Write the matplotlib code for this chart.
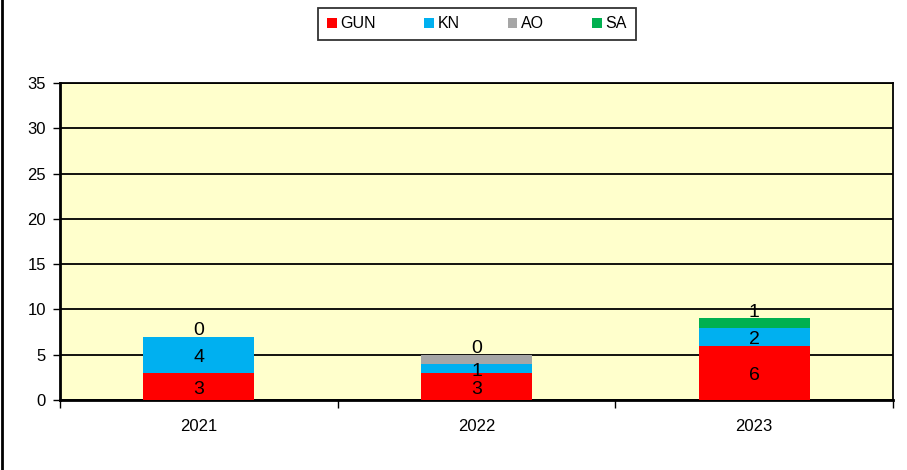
import numpy as np
import matplotlib
matplotlib.use("Agg")
import matplotlib.pyplot as plt

years = ["2021", "2022", "2023"]
gun = [3, 3, 6]
kn = [4, 1, 2]
ao = [0, 1, 0]
sa = [0, 0, 1]
top_labels = ["0", "0", "1"]

series = [("GUN", gun, "#FF0000"), ("KN", kn, "#00B0F0"),
          ("AO", ao, "#A6A6A6"), ("SA", sa, "#00B050")]

plt.rcParams['font.family'] = ['Liberation Sans', 'DejaVu Sans']

W, H = 907, 470
fig = plt.figure(figsize=(W / 100, H / 100), dpi=100)
ax = fig.add_axes([60 / W, 1 - 400 / H, (893 - 60) / W, (400 - 83) / H])
ax.set_facecolor("#FFFFCC")

x = np.arange(len(years))
bottom = np.zeros(len(years))
for name, vals, col in series:
    ax.bar(x, vals, 0.4, bottom=bottom, color=col, label=name, zorder=3)
    bottom += np.array(vals)

# segment labels (slightly low, like the original)
off = -0.3
for i in range(len(years)):
    ax.text(x[i], gun[i] / 2 + off, str(gun[i]), ha="center", va="center", fontsize=14, zorder=4)
    ax.text(x[i], gun[i] + kn[i] / 2 + off, str(kn[i]), ha="center", va="center", fontsize=14, zorder=4)
    ax.text(x[i], bottom[i] + 0.95 + off, top_labels[i], ha="center", va="center", fontsize=14, zorder=4)

ax.set_xlim(-0.5, 2.5)
ax.set_ylim(0, 35)
ax.set_yticks(range(0, 36, 5))
ax.yaxis.grid(True, color="black", linewidth=1.3, zorder=1)
ax.set_xticks(x)
ax.set_xticklabels(years)
ax.set_xticks([-0.5, 0.5, 1.5, 2.5], minor=True)
ax.tick_params(axis="x", which="major", length=0, pad=14, labelsize=12)
ax.tick_params(axis="x", which="minor", length=6, width=1, direction="out")
ax.tick_params(axis="y", length=5, width=1, labelsize=12, pad=5)
for s in ["left", "bottom"]:
    ax.spines[s].set_linewidth(2)
for s in ["top", "right"]:
    ax.spines[s].set_linewidth(1.3)

leg = fig.legend(loc="center", bbox_to_anchor=(477 / W, 1 - 24 / H), ncol=4,
                 fontsize=11.5, frameon=True, fancybox=False, edgecolor="black",
                 handlelength=0.6, handleheight=0.6, handletextpad=0.25,
                 columnspacing=3.0, borderpad=0.55, borderaxespad=0)
leg.get_frame().set_linewidth(1.3)

# left border line of the chart frame
fig.add_artist(plt.Line2D([2 / W, 2 / W], [0, 1], color="black", linewidth=2, transform=fig.transFigure))

fig.savefig("out.png", dpi=100)
